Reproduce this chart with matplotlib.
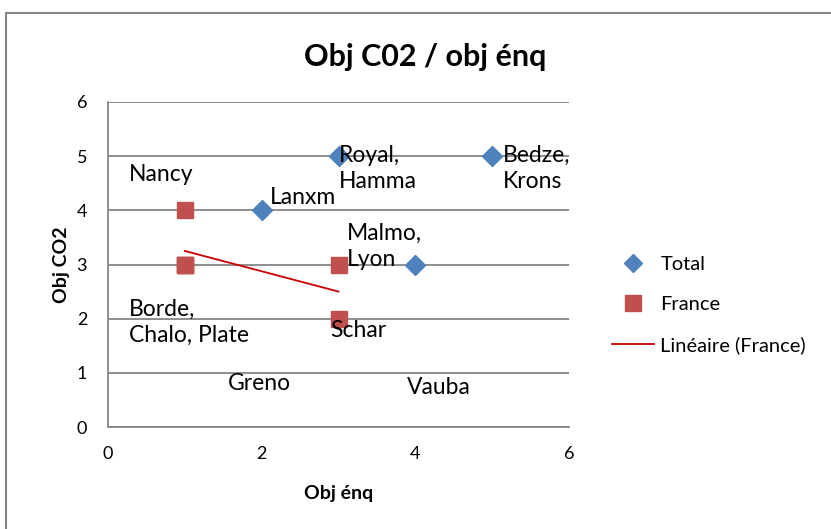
import numpy as np
import matplotlib
matplotlib.use("Agg")
import matplotlib.pyplot as plt
from matplotlib.patches import Rectangle
from matplotlib.lines import Line2D

plt.rcParams['font.family'] = ['Lato', 'DejaVu Sans']

# Data
total_x = [2, 3, 4, 5]
total_y = [4, 5, 3, 5]
france_x = [1, 1, 1, 1, 3, 3]
france_y = [4, 3, 3, 3, 3, 2]
label_texts = ["Nancy", "Royal,\nHamma", "Bedze,\nKrons", "Lanxm", "Malmo,\nLyon",
               "Borde,\nChalo, Plate", "Schar", "Greno", "Vauba"]
label_x = [0.27, 3.01, 5.14, 2.11, 3.11, 0.27, 2.89, 1.56, 3.89]
label_y = [4.67, 4.78, 4.78, 4.23, 3.34, 1.94, 1.79, 0.81, 0.72]
xticks = [0, 2, 4, 6]
yticks = [0, 1, 2, 3, 4, 5, 6]

W, H = 831, 529
fig = plt.figure(figsize=(W/100, H/100), dpi=100)
ax = fig.add_axes([108/W, 1-427/H, (569-108)/W, (427-102)/H])

grey = '#868686'
ax.set_xlim(0, 6)
ax.set_ylim(0, 6)
ax.set_xticks(xticks)
ax.set_yticks(yticks)
ax.yaxis.grid(True, color=grey, lw=1.3)
ax.set_axisbelow(True)
for s in ['top', 'right']:
    ax.spines[s].set_visible(False)
for s in ['left', 'bottom']:
    ax.spines[s].set_color(grey)
    ax.spines[s].set_linewidth(1.3)
ax.tick_params(length=0, labelsize=13)
ax.tick_params(axis='x', pad=14)
ax.tick_params(axis='y', pad=15)

ax.plot(total_x, total_y, 'D', color='#4F81BD', markersize=10, ls='none', zorder=3)
ax.plot(france_x, france_y, 's', color='#C0504D', markersize=12, ls='none', zorder=3)

# Linear trend for France
coef = np.polyfit(france_x, france_y, 1)
tx = np.array([min(france_x), max(france_x)])
ax.plot(tx, np.polyval(coef, tx), color='#CC0000', lw=1.3, zorder=4)

for t, x, y in zip(label_texts, label_x, label_y):
    ax.text(x, y, t, fontsize=16.5, ha='left', va='center', linespacing=1.3, zorder=5)

ax.set_xlabel('Obj énq', fontsize=14, fontweight='bold', labelpad=16)
ax.set_ylabel('Obj CO2', fontsize=14, fontweight='bold', labelpad=5)
fig.text(425/W, 1-57/H, 'Obj C02 / obj énq', ha='center', va='center',
         fontsize=22, fontweight='bold')

handles = [Line2D([], [], marker='D', color='#4F81BD', ls='none', markersize=9),
           Line2D([], [], marker='s', color='#C0504D', ls='none', markersize=12),
           Line2D([], [], color='#CC0000', lw=1.3)]
fig.legend(handles, ['Total', 'France', 'Linéaire (France)'],
           loc='center left', bbox_to_anchor=(594/W, 1-305/H), frameon=False,
           fontsize=14.5, labelspacing=1.15, handlelength=2.1, handletextpad=0.3)

fig.patches.append(Rectangle((6/W, -0.1), 1.2, 0.1 + 1-13/H, transform=fig.transFigure,
                             fill=False, edgecolor=grey, lw=1.5))

fig.savefig('out.png', dpi=100)
